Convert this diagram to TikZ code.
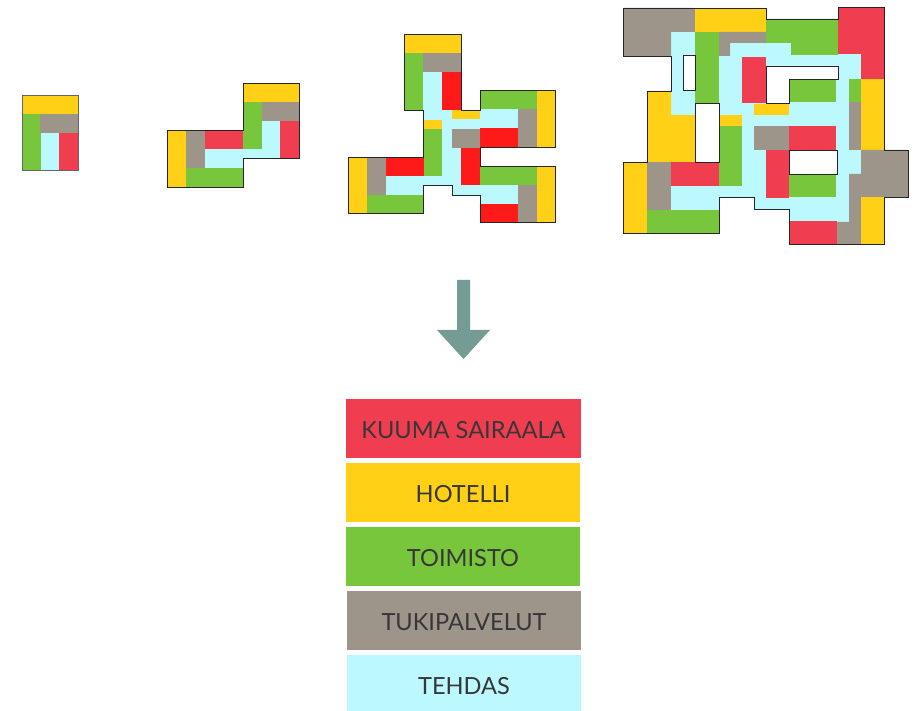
\documentclass[tikz,border=0pt]{standalone}
\usepackage{fontspec}
\setmainfont{Lato}
\usetikzlibrary{positioning}
\definecolor{kuumared}{RGB}{240,62,80}
\definecolor{brightred}{RGB}{255,26,26}
\definecolor{hotelliyellow}{RGB}{255,208,21}
\definecolor{toimistogreen}{RGB}{120,198,60}
\definecolor{tukigray}{RGB}{158,149,138}
\definecolor{tehdascyan}{RGB}{187,249,255}
\definecolor{arrowteal}{RGB}{116,155,148}
\definecolor{labeldark}{RGB}{56,54,56}

\begin{document}
\begin{tikzpicture}[
    x=1pt,y=-1pt,
    kuuma/.style={fill=kuumared},
    bright/.style={fill=brightred},
    hotelli/.style={fill=hotelliyellow},
    toimisto/.style={fill=toimistogreen},
    tuki/.style={fill=tukigray},
    tehdas/.style={fill=tehdascyan},
    outline/.style={draw=black!85,line width=0.9pt,line join=miter},
    legendbox/.style={minimum width=234.5pt,minimum height=59pt,inner sep=0pt,text=labeldark,text height=19.5pt,text depth=0pt,font=\fontsize{23.6}{26}\selectfont}
]
\useasboundingbox (0,0) rectangle (919,711);

% First plan
\fill[tehdas] (41,133) rectangle (59,170);
\fill[hotelli] (22,95.5) rectangle (78,114);
\fill[toimisto] (22,114) rectangle (41,170);
\fill[tuki] (40,114) rectangle (78,133);
\fill[kuuma] (59,133) rectangle (78,170);
\draw[draw=black!60,line width=0.7pt] (22,95.5) rectangle (78,170.5);

% Second plan
\fill[tehdas] (205,149) rectangle (243,168) (243,149) rectangle (280,158) (262,121) rectangle (280,149);
\fill[hotelli] (167.5,130) rectangle (186,187);
\fill[tuki] (186,130) rectangle (205,168);
\fill[kuuma] (205,130) rectangle (243,149);
\fill[toimisto] (186,168) rectangle (243,187);
\fill[toimisto] (243,102) rectangle (262,149);
\fill[tuki] (262,102) rectangle (299,121);
\fill[kuuma] (280,121) rectangle (299,158);
\fill[hotelli] (243,83.5) rectangle (299,102);
\draw[outline] (167.5,130) -- (243,130) -- (243,83.5) -- (299.5,83.5) -- (299.5,158) -- (243,158) -- (243,187) -- (167.5,187) -- cycle;

% Third plan
\fill[tehdas] (404.5,34.5) -- (461,34.5) -- (461,110) -- (480,110) -- (480,90.5) -- (555.5,90.5) -- (555.5,147) -- (480,147) -- (480,166) -- (555.5,166) -- (555.5,222.5) -- (480,222.5) -- (480,195) -- (452,195) -- (452,185) -- (423.5,185) -- (423.5,213.5) -- (348,213.5) -- (348,157) -- (423.5,157) -- (423.5,110) -- (404.5,110) -- cycle;
\fill[hotelli] (404.5,34.5) rectangle (461,53);
\fill[toimisto] (404.5,53) rectangle (423,110);
\fill[tuki] (423,53) rectangle (461,72);
\fill[bright] (442,72) rectangle (461,110);
\fill[hotelli] (452,110) rectangle (480,119);
\fill[toimisto] (480,90.5) rectangle (537,109);
\fill[hotelli] (537,90.5) rectangle (555.5,147);
\fill[tuki] (518,109) rectangle (537,147);
\fill[hotelli] (423.5,120) rectangle (442,129);
\fill[toimisto] (423.5,129) rectangle (442,176);
\fill[tuki] (452,129) rectangle (480,148);
\fill[bright] (480,128) rectangle (518,147);
\fill[bright] (461,148) rectangle (480,185);
\fill[toimisto] (480,166) rectangle (537,185);
\fill[hotelli] (537,166) rectangle (555.5,222.5);
\fill[tuki] (518,185) rectangle (537,222.5);
\fill[bright] (480,204) rectangle (518,222.5);
\fill[bright] (386,157) rectangle (423.5,176);
\fill[tuki] (367,157) rectangle (386,195);
\fill[hotelli] (348,157) rectangle (367,213.5);
\fill[toimisto] (367,195) rectangle (423.5,213.5);
\draw[outline] (404.5,34.5) -- (461,34.5) -- (461,110) -- (480,110) -- (480,90.5) -- (555.5,90.5) -- (555.5,147) -- (480,147) -- (480,166) -- (555.5,166) -- (555.5,222.5) -- (480,222.5) -- (480,195) -- (452,195) -- (452,185) -- (423.5,185) -- (423.5,213.5) -- (348,213.5) -- (348,157) -- (423.5,157) -- (423.5,110) -- (404.5,110) -- cycle;

% Fourth plan
\fill[tehdas] (623.5,8) -- (766,8) -- (766,19) -- (838,19) -- (838,7.5) -- (884.5,7.5) -- (884.5,150) -- (908,150) -- (908,197) -- (884.5,197) -- (884.5,244) -- (789,244) -- (789,209) -- (754,209) -- (754,197) -- (719,197) -- (719,233) -- (623.5,233) -- (623.5,162) -- (647,162) -- (647,91) -- (671,91) -- (671,56) -- (623.5,56) -- cycle;
\fill[tuki] (623.5,8) -- (695,8) -- (695,32) -- (671,32) -- (671,56) -- (623.5,56) -- cycle;
\fill[hotelli] (695,8) rectangle (766,32);
\fill[toimisto] (695,32) rectangle (719,103);
\fill[tuki] (719,32) -- (766,32) -- (766,43) -- (730,43) -- (730,56) -- (719,56) -- cycle;
\fill[toimisto] (766,19) -- (838,19) -- (838,55) -- (791,55) -- (791,43) -- (766,43) -- cycle;
\fill[kuuma] (742,57) rectangle (766,103);
\fill[kuuma] (838,7.5) -- (884.5,7.5) -- (884.5,79) -- (861,79) -- (861,54) -- (838,54) -- cycle;
\fill[hotelli] (861,79) rectangle (884.5,150);
\fill[toimisto] (849,79) rectangle (861,102);
\fill[tuki] (849,102) rectangle (861,150);
\fill[tuki] (861,150) -- (908,150) -- (908,197) -- (861,197) -- (861,244) -- (837,244) -- (837,222) -- (849,222) -- (849,174) -- (861,174) -- cycle;
\fill[hotelli] (861,197) rectangle (884.5,244);
\fill[kuuma] (789,221) rectangle (837,244);
\fill[toimisto] (789,174) rectangle (836,197);
\fill[kuuma] (766,150) rectangle (789,198);
\fill[tuki] (754,126) rectangle (789,150);
\fill[kuuma] (789,126) rectangle (836,150);
\fill[hotelli] (754,104) rectangle (789,115);
\fill[toimisto] (789,79) rectangle (836,102);
\fill[hotelli] (719,115) rectangle (742,126);
\fill[toimisto] (719,126) rectangle (742,186);
\fill[hotelli] (647,91) -- (671,91) -- (671,115) -- (695,115) -- (695,162) -- (647,162) -- cycle;
\fill[hotelli] (623.5,162) rectangle (647,233);
\fill[tuki] (647,162) rectangle (671,210);
\fill[kuuma] (671,162) rectangle (719,186);
\fill[toimisto] (647,210) rectangle (719,233);

% Holes
\filldraw[outline,fill=white] (683.5,55.5) rectangle (695,90.5);
\filldraw[outline,fill=white] (695,103) rectangle (719,162);
\filldraw[outline,fill=white] (766,66) -- (838,66) -- (838,79) -- (789,79) -- (789,103) -- (766,103) -- cycle;
\filldraw[outline,fill=white] (789,150) rectangle (837,174);
\draw[outline] (623.5,8) -- (766,8) -- (766,19) -- (838,19) -- (838,7.5) -- (884.5,7.5) -- (884.5,150) -- (908,150) -- (908,197) -- (884.5,197) -- (884.5,244) -- (789,244) -- (789,209) -- (754,209) -- (754,197) -- (719,197) -- (719,233) -- (623.5,233) -- (623.5,162) -- (647,162) -- (647,91) -- (671,91) -- (671,56) -- (623.5,56) -- cycle;

% Big arrow
\fill[arrowteal] (457,280) -- (470,280) -- (470,330) -- (490,330) -- (463.5,359) -- (437,330) -- (457,330) -- cycle;

% Legend
\node[legendbox,kuuma,minimum width=235pt] (kuumaroom) at (463.5,428.5) {KUUMA SAIRAALA};
\node[legendbox,hotelli] (hotelliroom) at (463,492.5) {HOTELLI};
\node[legendbox,toimisto] (toimistoroom) at (463,556.5) {TOIMISTO};
\node[legendbox,tuki] (tukiroom) at (464,620.5) {TUKIPALVELUT};
\node[legendbox,tehdas,minimum height=56pt,text height=23pt] (tehdasroom) at (464,683) {TEHDAS};

\end{tikzpicture}
\end{document}
